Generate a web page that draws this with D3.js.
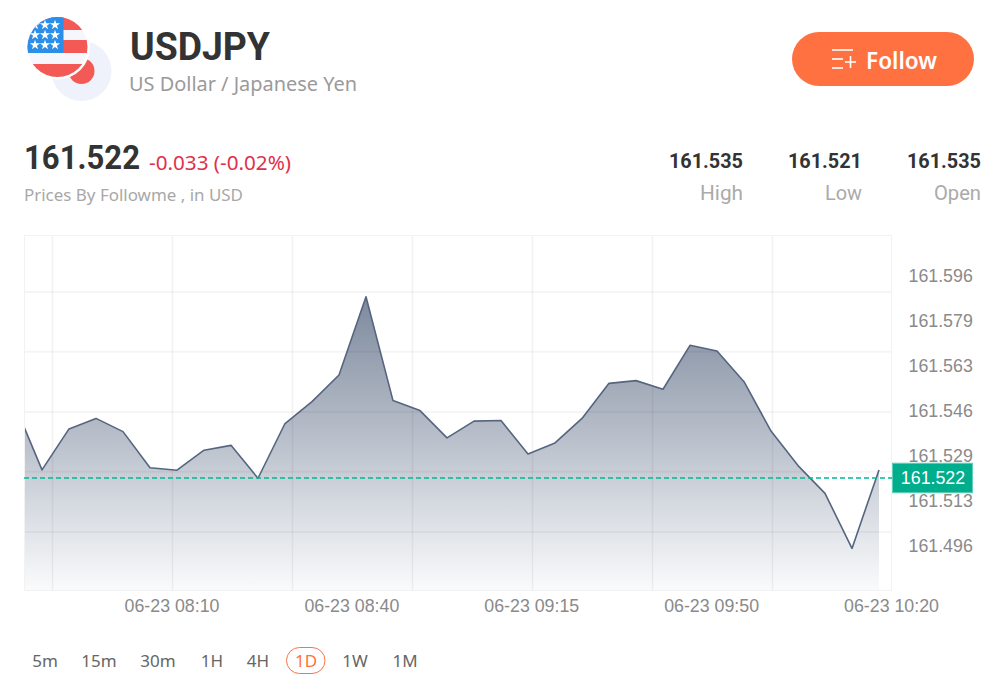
<!DOCTYPE html>
<html><head><meta charset="utf-8">
<script src="https://cdnjs.cloudflare.com/ajax/libs/d3/7.8.5/d3.min.js"></script>
<style>html,body{margin:0;padding:0;background:#fff;overflow:hidden}svg{display:block}
.ax text{font-family:"Liberation Sans",Arial,sans-serif;font-size:17.8px;fill:#8a8a8a}
.ax path,.ax line{display:none}</style></head><body>
<div id="c"></div>
<script>
const symbol = "USDJPY", subtitle = "US Dollar / Japanese Yen";
const lastPrice = 161.522, changeText = "-0.033 (-0.02%)", sourceText = "Prices By Followme , in USD";
const statValues = ["161.535", "161.521", "161.535"];
const statLabels = ["High", "Low", "Open"];
const periods = ["5m", "15m", "30m", "1H", "4H", "1D", "1W", "1M"];
const activePeriod = "1D";
const prices = [161.5488, 161.5249, 161.5401, 161.5440, 161.5391, 161.5257, 161.5248, 161.5322, 161.5340, 161.5218, 161.5421,
  161.5502, 161.5601, 161.5891, 161.5506, 161.5469, 161.5368, 161.5430, 161.5432, 161.5308, 161.5349, 161.5440, 161.5570,
  161.5580, 161.5548, 161.5711, 161.5690, 161.5576, 161.5393, 161.5265, 161.5162, 161.4958, 161.5249];
const yTicks = [161.596, 161.5793, 161.5627, 161.546, 161.5293, 161.5127, 161.496];
const yGrid = [161.612, 161.5909, 161.5687, 161.5464, 161.5242, 161.5019, 161.480];
const xLabels = ["06-23 08:10", "06-23 08:40", "06-23 09:15", "06-23 09:50", "06-23 10:20"];
const xGrid = [0, 1, 2, 3, 4, 5, 6];

const W = 997, H = 679, L = 24, R = 892, T = 235, B = 591;
const svg = d3.select("#c").append("svg").attr("width", W).attr("height", H);
const defs = svg.append("defs");
const x = d3.scaleLinear().domain([0, prices.length - 1]).range([15, 879]);
const y = d3.scaleLinear().domain([161.480, 161.612]).range([B, T]);
const gx = d3.scaleLinear().domain([0, 6]).range([52.5, 772.5]);
const xl = d3.scalePoint().domain(xLabels).range([172.5, 892]);

const txt = (px, py, s, o = {}) => {
  const t = svg.append("text").attr("x", px).attr("y", py).text(s)
    .attr("font-family", o.f || '"Noto Sans",sans-serif').attr("font-size", o.s || 18)
    .attr("font-weight", o.w || 400).attr("fill", o.c || "#999").attr("text-anchor", o.a || "start")
    .attr("letter-spacing", o.ls || 0);
  if (o.len) t.attr("textLength", o.len).attr("lengthAdjust", "spacingAndGlyphs");
  return t;
};

/* logo */
const logo = svg.append("g");
logo.append("circle").attr("cx", 81.5).attr("cy", 71).attr("r", 30).attr("fill", "#eff2fb");
logo.append("circle").attr("cx", 81.5).attr("cy", 71).attr("r", 13).attr("fill", "#f45a55");
logo.append("circle").attr("cx", 57.5).attr("cy", 47).attr("r", 32.5).attr("fill", "#fff");
defs.append("clipPath").attr("id", "flag").append("circle").attr("cx", 57.5).attr("cy", 47).attr("r", 30);
const flag = logo.append("g").attr("clip-path", "url(#flag)");
[[17, 13, "#f45a55"], [30, 10, "#f5f7fd"], [40, 13, "#f45a55"], [53, 11, "#f5f7fd"], [64, 14, "#f45a55"]].forEach(d =>
  flag.append("rect").attr("x", 27).attr("y", d[0]).attr("width", 61).attr("height", d[1]).attr("fill", d[2]));
flag.append("rect").attr("x", 27).attr("y", 17).attr("width", 36.5).attr("height", 36).attr("fill", "#2b8ee8");
const star = d3.symbol().type(d3.symbolStar).size(32)();
[[35, 25], [45, 25], [55, 25], [35, 35], [45, 35], [55, 35], [35, 45], [45, 45], [55, 45], [27, 25]].forEach(p =>
  flag.append("path").attr("d", star).attr("transform", `translate(${p[0]},${p[1]})`).attr("fill", "#fff"));

/* header */
txt(130, 60, symbol, {f: "Roboto,sans-serif", s: 39, w: 700, c: "#333", len: 140});
txt(129, 91, subtitle, {s: 20, c: "#9a9a9a", len: 228});
svg.append("rect").attr("x", 792).attr("y", 32).attr("width", 182).attr("height", 54).attr("rx", 27).attr("fill", "#ff7140");
const icon = svg.append("g").attr("stroke", "#fff").attr("stroke-width", 1.6);
[[832, 853, 50], [832, 843, 59], [832, 843, 68], [845, 856, 62]].forEach(d =>
  icon.append("line").attr("x1", d[0]).attr("x2", d[1]).attr("y1", d[2]).attr("y2", d[2]));
icon.append("line").attr("x1", 850.5).attr("x2", 850.5).attr("y1", 56).attr("y2", 68);
txt(866, 69, "Follow", {s: 23, w: 600, c: "#fff", len: 71});

txt(24, 169, d3.format(".3f")(lastPrice), {f: "Roboto,sans-serif", s: 33, w: 700, c: "#333", len: 116});
txt(149, 170, changeText, {s: 20, c: "#e2304a", len: 142});
txt(24, 201, sourceText, {s: 17, c: "#a8a8a8", len: 219});
const statX = d3.scalePoint().domain(statLabels).range([743, 981]);
const labelLens = [43, 37, 47];
statLabels.forEach((l, i) => {
  txt(statX(l), 168, statValues[i], {f: "Roboto,sans-serif", s: 21, w: 700, c: "#333", a: "end", len: 74});
  txt(statX(l), 200, l, {f: "Roboto,sans-serif", s: 21, c: "#aaa", a: "end", len: labelLens[i]});
});

/* chart */
const grad = defs.append("linearGradient").attr("id", "ag").attr("gradientUnits", "userSpaceOnUse")
  .attr("x1", 0).attr("x2", 0).attr("y1", y(d3.max(prices))).attr("y2", B);
grad.append("stop").attr("offset", 0).attr("stop-color", "#7d899d");
grad.append("stop").attr("offset", 1).attr("stop-color", "#fafbfc");
defs.append("clipPath").attr("id", "plot").append("rect").attr("x", L).attr("y", T).attr("width", R - L).attr("height", B - T);
const plot = svg.append("g").attr("clip-path", "url(#plot)");
plot.append("path").datum(prices).attr("fill", "url(#ag)")
  .attr("d", d3.area().x((d, i) => x(i)).y0(B).y1(d => y(d)));
plot.selectAll(".gh").data(yGrid).join("line").attr("x1", L).attr("x2", R)
  .attr("y1", d => y(d)).attr("y2", d => y(d)).attr("stroke", "rgba(0,0,0,0.04)").attr("stroke-width", 2);
plot.selectAll(".gv").data(xGrid).join("line").attr("y1", T).attr("y2", B)
  .attr("x1", d => gx(d)).attr("x2", d => gx(d)).attr("stroke", "rgba(0,0,0,0.05)").attr("stroke-width", 1.5);
plot.append("path").datum(prices).attr("fill", "none").attr("stroke", "#56657f").attr("stroke-width", 1.6)
  .attr("stroke-linejoin", "round").attr("d", d3.line().x((d, i) => x(i)).y(d => y(d)));
svg.append("rect").attr("x", L + .5).attr("y", T + .5).attr("width", R - L - 1).attr("height", B - T - 1)
  .attr("fill", "none").attr("stroke", "#f2f2f2");
svg.append("line").attr("x1", L).attr("x2", R).attr("y1", 478).attr("y2", 478)
  .attr("stroke", "#00b894").attr("stroke-width", 1.5).attr("stroke-dasharray", "5 3");

svg.append("g").attr("class", "ax").attr("transform", `translate(${R + 1},-2)`)
  .call(d3.axisRight(y).tickValues(yTicks).tickFormat(d3.format(".3f")).tickSize(0).tickPadding(15.5));
svg.append("g").attr("class", "ax").attr("transform", `translate(-1,${B - 2})`)
  .call(d3.axisBottom(xl).tickSize(0).tickPadding(10));

const by = y(lastPrice);
svg.append("rect").attr("x", 892.5).attr("y", by - 14.5).attr("width", 80).attr("height", 29.5)
  .attr("fill", "#00ae8e").attr("stroke", "#5fd0ba").attr("stroke-width", 1);
svg.append("text").attr("x", 933).attr("y", by + 6).attr("text-anchor", "middle").text(d3.format(".3f")(lastPrice))
  .attr("font-family", '"Liberation Sans",Arial,sans-serif').attr("font-size", 17.8).attr("fill", "#fff");

/* periods */
const periodX = [45, 99, 158, 212, 258, 306, 355, 405];
periods.forEach((p, i) => {
  if (p === activePeriod) svg.append("rect").attr("x", 286.5).attr("y", 647.5).attr("width", 38.5).attr("height", 26)
    .attr("rx", 13).attr("fill", "none").attr("stroke", "#ff7140");
  txt(periodX[i], 667, p, {s: 17, c: p === activePeriod ? "#ff7140" : "#666", a: "middle"});
});
</script></body></html>
